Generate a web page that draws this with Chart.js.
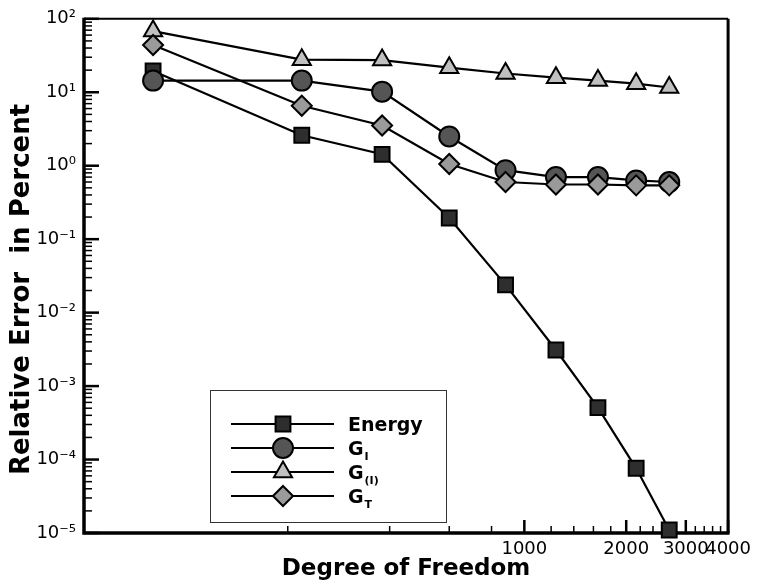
<!DOCTYPE html>
<html>
<head>
<meta charset="utf-8">
<title>Relative Error vs Degree of Freedom</title>
<style>
  body { margin: 0; background: #fff; }
</style>
</head>
<body>
<canvas id="errChart" width="757" height="586"></canvas>
<script src="https://cdn.jsdelivr.net/npm/chart.js"></script>
<script>
// values
const dof = [80, 220, 380, 600, 880, 1240, 1650, 2140, 2680];
const energy = [19.5, 2.6, 1.43, 0.194, 0.0239, 0.0031, 0.00051, 0.000076, 0.000011];
const gI = [14.4, 14.4, 10.2, 2.5, 0.87, 0.70, 0.70, 0.63, 0.60];
const gII = [68, 27.8, 27.4, 21.6, 18, 15.8, 14.4, 13.1, 11.6];
const gT = [44, 6.55, 3.53, 1.056, 0.60, 0.555, 0.555, 0.54, 0.54];

const seriesNames = ['Energy', 'G', 'G', 'G'];
const seriesSubs = ['', 'I', '(I)', 'T'];

const xTicks = [200, 400, 600, 800, 1000, 1200, 1400, 1600, 1800, 2000,
                2200, 2400, 2600, 2800, 3000, 3200, 3400, 3600, 3800, 4000];
const xLabels = [1000, 2000, 3000, 4000];
const yExponents = [-5, -4, -3, -2, -1, 0, 1, 2];

const sup = {'-': '\u207B', '0': '\u2070', '1': '\u00B9', '2': '\u00B2', '3': '\u00B3',
             '4': '\u2074', '5': '\u2075'};
const pow10Label = (e) => '10' + String(e).split('').map(c => sup[c]).join('');

const mk = (i, data, style, fill, radius, order) => ({
    label: seriesNames[i] + seriesSubs[i],
    data: dof.map((x, k) => ({x: x, y: data[k]})),
    borderColor: '#000',
    borderWidth: 2.2,
    pointStyle: style,
    pointRadius: radius,
    pointHoverRadius: radius,
    pointBackgroundColor: fill,
    pointBorderColor: '#000',
    pointBorderWidth: 2,
    tension: 0,
    clip: false,
    order: order
});

const datasets = [
    mk(0, energy, 'rect', '#2e2e2e', 10.5, 4),
    mk(1, gI, 'circle', '#555555', 10, 3),
    mk(2, gII, 'triangle', '#c0c0c0', 10.5, 2),
    mk(3, gT, 'rectRot', '#9a9a9a', 10, 1)
];

// frame and inward tick marks
const framePlugin = {
    id: 'frame',
    beforeDatasetsDraw(chart) {
        const {ctx, chartArea: a, scales} = chart;
        ctx.save();
        ctx.strokeStyle = '#000';
        ctx.lineCap = 'butt';
        scales.x.ticks.forEach(t => {
            const px = scales.x.getPixelForValue(t.value);
            const len = xLabels.includes(t.value) ? 13 : 7;
            ctx.lineWidth = xLabels.includes(t.value) ? 2.5 : 1.5;
            ctx.beginPath();
            ctx.moveTo(px, a.bottom);
            ctx.lineTo(px, a.bottom - len);
            ctx.stroke();
        });
        scales.y.ticks.forEach(t => {
            const py = scales.y.getPixelForValue(t.value);
            const len = t.major ? 15 : 8;
            ctx.lineWidth = t.major ? 2.5 : 1.5;
            ctx.beginPath();
            ctx.moveTo(a.left, py);
            ctx.lineTo(a.left + len, py);
            ctx.stroke();
        });
        ctx.lineWidth = 2;
        ctx.beginPath();
        ctx.moveTo(a.left, a.top);
        ctx.lineTo(a.right, a.top);
        ctx.stroke();
        ctx.lineWidth = 3;
        ctx.beginPath();
        ctx.moveTo(a.right, a.top);
        ctx.lineTo(a.right, a.bottom);
        ctx.stroke();
        ctx.lineWidth = 3.5;
        ctx.beginPath();
        ctx.moveTo(a.left, a.top - 1);
        ctx.lineTo(a.left, a.bottom);
        ctx.lineTo(a.right + 1.5, a.bottom);
        ctx.stroke();
        ctx.restore();
    }
};

// boxed legend inside the plot
const legendPlugin = {
    id: 'boxLegend',
    afterDraw(chart) {
        const ctx = chart.ctx;
        const box = {x: 210, y: 390, w: 236, h: 132};
        ctx.save();
        ctx.fillStyle = '#fff';
        ctx.fillRect(box.x, box.y, box.w, box.h);
        ctx.strokeStyle = '#333';
        ctx.lineWidth = 1;
        ctx.strokeRect(box.x + 0.5, box.y + 0.5, box.w, box.h);
        chart.data.datasets.forEach((ds, i) => {
            const y = 424 + i * 24;
            ctx.strokeStyle = '#000';
            ctx.lineWidth = 2.2;
            ctx.beginPath();
            ctx.moveTo(231, y);
            ctx.lineTo(334, y);
            ctx.stroke();
            ctx.fillStyle = ds.pointBackgroundColor;
            ctx.strokeStyle = '#000';
            ctx.lineWidth = ds.pointBorderWidth;
            Chart.helpers.drawPoint(ctx, {
                pointStyle: ds.pointStyle, rotation: 0,
                radius: ds.pointRadius, borderWidth: ds.pointBorderWidth
            }, 283, y);
            ctx.fillStyle = '#000';
            ctx.textBaseline = 'alphabetic';
            ctx.textAlign = 'left';
            ctx.font = "bold 19px 'DejaVu Sans', sans-serif";
            ctx.fillText(seriesNames[i], 348, y + 7);
            if (seriesSubs[i]) {
                const w = ctx.measureText(seriesNames[i]).width;
                ctx.font = "bold 11px 'DejaVu Sans', sans-serif";
                ctx.fillText(seriesSubs[i], 348 + w + 1, y + 12);
            }
        });
        ctx.restore();
    }
};

Chart.defaults.font.family = "'DejaVu Sans', sans-serif";
Chart.defaults.color = '#000';

new Chart(document.getElementById('errChart'), {
    type: 'line',
    data: {datasets: datasets},
    options: {
        responsive: false,
        animation: false,
        events: [],
        layout: {padding: {top: 17, right: 25, left: 0, bottom: 0}},
        plugins: {legend: {display: false}, tooltip: {enabled: false}},
        scales: {
            x: {
                type: 'logarithmic',
                min: 50,
                max: 4000,
                afterBuildTicks: (s) => {
                    s.ticks = xTicks.map(v => ({value: v, major: xLabels.includes(v)}));
                },
                afterFit: (s) => { s.height = 53; },
                grid: {display: false, drawTicks: false},
                border: {display: false},
                ticks: {
                    autoSkip: false,
                    maxRotation: 0,
                    padding: 6,
                    font: {size: 18},
                    callback: (v) => xLabels.includes(v) ? String(v) : ''
                },
                title: {
                    display: true,
                    text: 'Degree of Freedom',
                    font: {size: 23, weight: 'bold'},
                    padding: {top: 0, bottom: 3}
                }
            },
            y: {
                type: 'logarithmic',
                min: 1e-5,
                max: 100,
                afterBuildTicks: (s) => {
                    const t = [];
                    yExponents.forEach(e => {
                        for (let m = 1; m <= 9; m++) {
                            if (e === 2 && m > 1) break;
                            t.push({value: m * Math.pow(10, e), major: m === 1, exp: e});
                        }
                    });
                    s.ticks = t;
                },
                afterFit: (s) => { s.width = 84; },
                grid: {display: false, drawTicks: false},
                border: {display: false},
                ticks: {
                    autoSkip: false,
                    padding: 8,
                    font: {size: 18},
                    callback: function (v, i, ticks) {
                        return ticks[i].major ? pow10Label(ticks[i].exp) : '';
                    }
                },
                title: {
                    display: true,
                    // trailing spaces nudge the centred title down a little, as in the original
                    text: 'Relative Error  in Percent   ',
                    font: {size: 26, weight: 'bold'},
                    padding: {top: 7, bottom: 0}
                }
            }
        }
    },
    plugins: [framePlugin, legendPlugin]
});
</script>
</body>
</html>
